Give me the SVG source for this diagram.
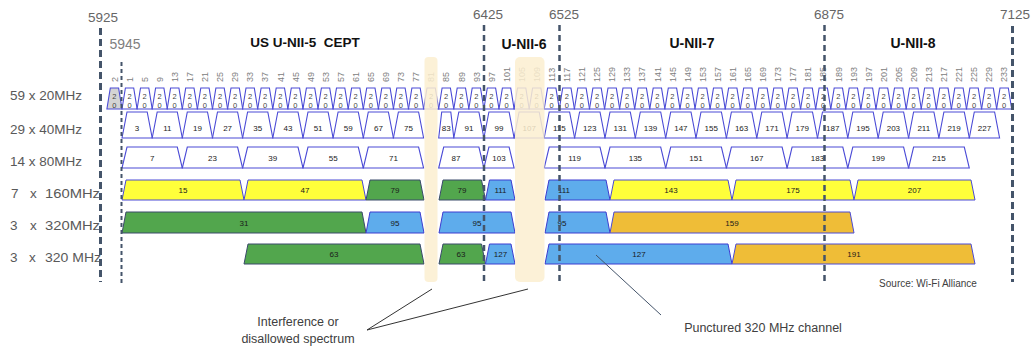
<svg xmlns="http://www.w3.org/2000/svg" width="1032" height="347" viewBox="0 0 1032 347">
<style>
text{font-family:"Liberation Sans",Arial,sans-serif}
.bg{fill:#fff}
.p20{fill:#fff;stroke:#4a4ad6;stroke-width:1.1}
.gry{fill:#d4d4d4}
.t20{font-size:7.5px;fill:#444;text-anchor:middle}
.cl{font-size:9px;fill:#808080}
.pw{fill:#fff;stroke:#4a4ad6;stroke-width:1.1}
.ty{fill:#ffff3a;stroke:#4a4ad6;stroke-width:1}
.tg{fill:#52a64d;stroke:#3b4a6b;stroke-width:1}
.tb{fill:#5eacec;stroke:#3d3dd0;stroke-width:1}
.to{fill:#efbd37;stroke:#4a4ad6;stroke-width:1}
.tn{font-size:8px;fill:#1a1a1a;text-anchor:middle}
.band{fill:#fcefd0;opacity:0.85}
.dl{stroke:#44546a;fill:none}
.freq{font-size:13.5px;fill:#666;text-anchor:middle}
.hdr{font-size:14px;font-weight:bold;fill:#111;text-anchor:middle}
.rl{font-size:13.5px;fill:#595959}
.ann{font-size:12.5px;fill:#404040;text-anchor:middle}
.con{stroke:#333;stroke-width:1;fill:none}
</style>
<rect class="bg" x="0" y="0" width="1032" height="347"/>

<g id="row20">
<g id="c20-2" transform="translate(106.9,0)"><polygon class="p20 gry" points="0,109 3.4,88 11.7,88 15.1,109"/><text class="t20" x="7.5" y="99">2</text><text class="t20" x="7.5" y="108">0</text><text class="cl" transform="translate(10.7,82) rotate(-90)">2</text></g>
<g id="c20-1" transform="translate(122,0)"><polygon class="p20" points="0,109 3.4,88 11.7,88 15.1,109"/><text class="t20" x="7.5" y="99">2</text><text class="t20" x="7.5" y="108">0</text><text class="cl" transform="translate(10.7,82) rotate(-90)">1</text></g>
<g id="c20-5" transform="translate(137.1,0)"><polygon class="p20" points="0,109 3.4,88 11.7,88 15.1,109"/><text class="t20" x="7.5" y="99">2</text><text class="t20" x="7.5" y="108">0</text><text class="cl" transform="translate(10.7,82) rotate(-90)">5</text></g>
<g id="c20-9" transform="translate(152.2,0)"><polygon class="p20" points="0,109 3.4,88 11.7,88 15.1,109"/><text class="t20" x="7.5" y="99">2</text><text class="t20" x="7.5" y="108">0</text><text class="cl" transform="translate(10.7,82) rotate(-90)">9</text></g>
<g id="c20-13" transform="translate(167.2,0)"><polygon class="p20" points="0,109 3.4,88 11.7,88 15.1,109"/><text class="t20" x="7.5" y="99">2</text><text class="t20" x="7.5" y="108">0</text><text class="cl" transform="translate(10.7,82) rotate(-90)">13</text></g>
<g id="c20-17" transform="translate(182.3,0)"><polygon class="p20" points="0,109 3.4,88 11.7,88 15.1,109"/><text class="t20" x="7.5" y="99">2</text><text class="t20" x="7.5" y="108">0</text><text class="cl" transform="translate(10.7,82) rotate(-90)">17</text></g>
<g id="c20-21" transform="translate(197.4,0)"><polygon class="p20" points="0,109 3.4,88 11.7,88 15.1,109"/><text class="t20" x="7.5" y="99">2</text><text class="t20" x="7.5" y="108">0</text><text class="cl" transform="translate(10.7,82) rotate(-90)">21</text></g>
<g id="c20-25" transform="translate(212.5,0)"><polygon class="p20" points="0,109 3.4,88 11.7,88 15.1,109"/><text class="t20" x="7.5" y="99">2</text><text class="t20" x="7.5" y="108">0</text><text class="cl" transform="translate(10.7,82) rotate(-90)">25</text></g>
<g id="c20-29" transform="translate(227.6,0)"><polygon class="p20" points="0,109 3.4,88 11.7,88 15.1,109"/><text class="t20" x="7.5" y="99">2</text><text class="t20" x="7.5" y="108">0</text><text class="cl" transform="translate(10.7,82) rotate(-90)">29</text></g>
<g id="c20-33" transform="translate(242.6,0)"><polygon class="p20" points="0,109 3.4,88 11.7,88 15.1,109"/><text class="t20" x="7.5" y="99">2</text><text class="t20" x="7.5" y="108">0</text><text class="cl" transform="translate(10.7,82) rotate(-90)">33</text></g>
<g id="c20-37" transform="translate(257.7,0)"><polygon class="p20" points="0,109 3.4,88 11.7,88 15.1,109"/><text class="t20" x="7.5" y="99">2</text><text class="t20" x="7.5" y="108">0</text><text class="cl" transform="translate(10.7,82) rotate(-90)">37</text></g>
<g id="c20-41" transform="translate(272.8,0)"><polygon class="p20" points="0,109 3.4,88 11.7,88 15.1,109"/><text class="t20" x="7.5" y="99">2</text><text class="t20" x="7.5" y="108">0</text><text class="cl" transform="translate(10.7,82) rotate(-90)">41</text></g>
<g id="c20-45" transform="translate(287.9,0)"><polygon class="p20" points="0,109 3.4,88 11.7,88 15.1,109"/><text class="t20" x="7.5" y="99">2</text><text class="t20" x="7.5" y="108">0</text><text class="cl" transform="translate(10.7,82) rotate(-90)">45</text></g>
<g id="c20-49" transform="translate(303,0)"><polygon class="p20" points="0,109 3.4,88 11.7,88 15.1,109"/><text class="t20" x="7.5" y="99">2</text><text class="t20" x="7.5" y="108">0</text><text class="cl" transform="translate(10.7,82) rotate(-90)">49</text></g>
<g id="c20-53" transform="translate(318,0)"><polygon class="p20" points="0,109 3.4,88 11.7,88 15.1,109"/><text class="t20" x="7.5" y="99">2</text><text class="t20" x="7.5" y="108">0</text><text class="cl" transform="translate(10.7,82) rotate(-90)">53</text></g>
<g id="c20-57" transform="translate(333.1,0)"><polygon class="p20" points="0,109 3.4,88 11.7,88 15.1,109"/><text class="t20" x="7.5" y="99">2</text><text class="t20" x="7.5" y="108">0</text><text class="cl" transform="translate(10.7,82) rotate(-90)">57</text></g>
<g id="c20-61" transform="translate(348.2,0)"><polygon class="p20" points="0,109 3.4,88 11.7,88 15.1,109"/><text class="t20" x="7.5" y="99">2</text><text class="t20" x="7.5" y="108">0</text><text class="cl" transform="translate(10.7,82) rotate(-90)">61</text></g>
<g id="c20-65" transform="translate(363.3,0)"><polygon class="p20" points="0,109 3.4,88 11.7,88 15.1,109"/><text class="t20" x="7.5" y="99">2</text><text class="t20" x="7.5" y="108">0</text><text class="cl" transform="translate(10.7,82) rotate(-90)">65</text></g>
<g id="c20-69" transform="translate(378.4,0)"><polygon class="p20" points="0,109 3.4,88 11.7,88 15.1,109"/><text class="t20" x="7.5" y="99">2</text><text class="t20" x="7.5" y="108">0</text><text class="cl" transform="translate(10.7,82) rotate(-90)">69</text></g>
<g id="c20-73" transform="translate(393.4,0)"><polygon class="p20" points="0,109 3.4,88 11.7,88 15.1,109"/><text class="t20" x="7.5" y="99">2</text><text class="t20" x="7.5" y="108">0</text><text class="cl" transform="translate(10.7,82) rotate(-90)">73</text></g>
<g id="c20-77" transform="translate(408.5,0)"><polygon class="p20" points="0,109 3.4,88 11.7,88 15.1,109"/><text class="t20" x="7.5" y="99">2</text><text class="t20" x="7.5" y="108">0</text><text class="cl" transform="translate(10.7,82) rotate(-90)">77</text></g>
<g id="c20-81" transform="translate(423.6,0)"><polygon class="p20" points="0,109 3.4,88 11.7,88 15.1,109"/><text class="t20" x="7.5" y="99">2</text><text class="t20" x="7.5" y="108">0</text><text class="cl" transform="translate(10.7,82) rotate(-90)">81</text></g>
<g id="c20-85" transform="translate(438.7,0)"><polygon class="p20" points="0,109 3.4,88 11.7,88 15.1,109"/><text class="t20" x="7.5" y="99">2</text><text class="t20" x="7.5" y="108">0</text><text class="cl" transform="translate(10.7,82) rotate(-90)">85</text></g>
<g id="c20-89" transform="translate(453.8,0)"><polygon class="p20" points="0,109 3.4,88 11.7,88 15.1,109"/><text class="t20" x="7.5" y="99">2</text><text class="t20" x="7.5" y="108">0</text><text class="cl" transform="translate(10.7,82) rotate(-90)">89</text></g>
<g id="c20-93" transform="translate(468.8,0)"><polygon class="p20" points="0,109 3.4,88 11.7,88 15.1,109"/><text class="t20" x="7.5" y="99">2</text><text class="t20" x="7.5" y="108">0</text><text class="cl" transform="translate(10.7,82) rotate(-90)">93</text></g>
<g id="c20-97" transform="translate(483.9,0)"><polygon class="p20" points="0,109 3.4,88 11.7,88 15.1,109"/><text class="t20" x="7.5" y="99">2</text><text class="t20" x="7.5" y="108">0</text><text class="cl" transform="translate(10.7,82) rotate(-90)">97</text></g>
<g id="c20-101" transform="translate(499,0)"><polygon class="p20" points="0,109 3.4,88 11.7,88 15.1,109"/><text class="t20" x="7.5" y="99">2</text><text class="t20" x="7.5" y="108">0</text><text class="cl" transform="translate(10.7,82) rotate(-90)">101</text></g>
<g id="c20-105" transform="translate(514.1,0)"><polygon class="p20" points="0,109 3.4,88 11.7,88 15.1,109"/><text class="t20" x="7.5" y="99">2</text><text class="t20" x="7.5" y="108">0</text><text class="cl" transform="translate(10.7,82) rotate(-90)">105</text></g>
<g id="c20-109" transform="translate(529.2,0)"><polygon class="p20" points="0,109 3.4,88 11.7,88 15.1,109"/><text class="t20" x="7.5" y="99">2</text><text class="t20" x="7.5" y="108">0</text><text class="cl" transform="translate(10.7,82) rotate(-90)">109</text></g>
<g id="c20-113" transform="translate(544.2,0)"><polygon class="p20" points="0,109 3.4,88 11.7,88 15.1,109"/><text class="t20" x="7.5" y="99">2</text><text class="t20" x="7.5" y="108">0</text><text class="cl" transform="translate(10.7,82) rotate(-90)">113</text></g>
<g id="c20-117" transform="translate(559.3,0)"><polygon class="p20" points="0,109 3.4,88 11.7,88 15.1,109"/><text class="t20" x="7.5" y="99">2</text><text class="t20" x="7.5" y="108">0</text><text class="cl" transform="translate(10.7,82) rotate(-90)">117</text></g>
<g id="c20-121" transform="translate(574.4,0)"><polygon class="p20" points="0,109 3.4,88 11.7,88 15.1,109"/><text class="t20" x="7.5" y="99">2</text><text class="t20" x="7.5" y="108">0</text><text class="cl" transform="translate(10.7,82) rotate(-90)">121</text></g>
<g id="c20-125" transform="translate(589.5,0)"><polygon class="p20" points="0,109 3.4,88 11.7,88 15.1,109"/><text class="t20" x="7.5" y="99">2</text><text class="t20" x="7.5" y="108">0</text><text class="cl" transform="translate(10.7,82) rotate(-90)">125</text></g>
<g id="c20-129" transform="translate(604.6,0)"><polygon class="p20" points="0,109 3.4,88 11.7,88 15.1,109"/><text class="t20" x="7.5" y="99">2</text><text class="t20" x="7.5" y="108">0</text><text class="cl" transform="translate(10.7,82) rotate(-90)">129</text></g>
<g id="c20-133" transform="translate(619.6,0)"><polygon class="p20" points="0,109 3.4,88 11.7,88 15.1,109"/><text class="t20" x="7.5" y="99">2</text><text class="t20" x="7.5" y="108">0</text><text class="cl" transform="translate(10.7,82) rotate(-90)">133</text></g>
<g id="c20-137" transform="translate(634.7,0)"><polygon class="p20" points="0,109 3.4,88 11.7,88 15.1,109"/><text class="t20" x="7.5" y="99">2</text><text class="t20" x="7.5" y="108">0</text><text class="cl" transform="translate(10.7,82) rotate(-90)">137</text></g>
<g id="c20-141" transform="translate(649.8,0)"><polygon class="p20" points="0,109 3.4,88 11.7,88 15.1,109"/><text class="t20" x="7.5" y="99">2</text><text class="t20" x="7.5" y="108">0</text><text class="cl" transform="translate(10.7,82) rotate(-90)">141</text></g>
<g id="c20-145" transform="translate(664.9,0)"><polygon class="p20" points="0,109 3.4,88 11.7,88 15.1,109"/><text class="t20" x="7.5" y="99">2</text><text class="t20" x="7.5" y="108">0</text><text class="cl" transform="translate(10.7,82) rotate(-90)">145</text></g>
<g id="c20-149" transform="translate(680,0)"><polygon class="p20" points="0,109 3.4,88 11.7,88 15.1,109"/><text class="t20" x="7.5" y="99">2</text><text class="t20" x="7.5" y="108">0</text><text class="cl" transform="translate(10.7,82) rotate(-90)">149</text></g>
<g id="c20-153" transform="translate(695,0)"><polygon class="p20" points="0,109 3.4,88 11.7,88 15.1,109"/><text class="t20" x="7.5" y="99">2</text><text class="t20" x="7.5" y="108">0</text><text class="cl" transform="translate(10.7,82) rotate(-90)">153</text></g>
<g id="c20-157" transform="translate(710.1,0)"><polygon class="p20" points="0,109 3.4,88 11.7,88 15.1,109"/><text class="t20" x="7.5" y="99">2</text><text class="t20" x="7.5" y="108">0</text><text class="cl" transform="translate(10.7,82) rotate(-90)">157</text></g>
<g id="c20-161" transform="translate(725.2,0)"><polygon class="p20" points="0,109 3.4,88 11.7,88 15.1,109"/><text class="t20" x="7.5" y="99">2</text><text class="t20" x="7.5" y="108">0</text><text class="cl" transform="translate(10.7,82) rotate(-90)">161</text></g>
<g id="c20-165" transform="translate(740.3,0)"><polygon class="p20" points="0,109 3.4,88 11.7,88 15.1,109"/><text class="t20" x="7.5" y="99">2</text><text class="t20" x="7.5" y="108">0</text><text class="cl" transform="translate(10.7,82) rotate(-90)">165</text></g>
<g id="c20-169" transform="translate(755.4,0)"><polygon class="p20" points="0,109 3.4,88 11.7,88 15.1,109"/><text class="t20" x="7.5" y="99">2</text><text class="t20" x="7.5" y="108">0</text><text class="cl" transform="translate(10.7,82) rotate(-90)">169</text></g>
<g id="c20-173" transform="translate(770.4,0)"><polygon class="p20" points="0,109 3.4,88 11.7,88 15.1,109"/><text class="t20" x="7.5" y="99">2</text><text class="t20" x="7.5" y="108">0</text><text class="cl" transform="translate(10.7,82) rotate(-90)">173</text></g>
<g id="c20-177" transform="translate(785.5,0)"><polygon class="p20" points="0,109 3.4,88 11.7,88 15.1,109"/><text class="t20" x="7.5" y="99">2</text><text class="t20" x="7.5" y="108">0</text><text class="cl" transform="translate(10.7,82) rotate(-90)">177</text></g>
<g id="c20-181" transform="translate(800.6,0)"><polygon class="p20" points="0,109 3.4,88 11.7,88 15.1,109"/><text class="t20" x="7.5" y="99">2</text><text class="t20" x="7.5" y="108">0</text><text class="cl" transform="translate(10.7,82) rotate(-90)">181</text></g>
<g id="c20-185" transform="translate(815.7,0)"><polygon class="p20" points="0,109 3.4,88 11.7,88 15.1,109"/><text class="t20" x="7.5" y="99">2</text><text class="t20" x="7.5" y="108">0</text><text class="cl" transform="translate(10.7,82) rotate(-90)">185</text></g>
<g id="c20-189" transform="translate(830.8,0)"><polygon class="p20" points="0,109 3.4,88 11.7,88 15.1,109"/><text class="t20" x="7.5" y="99">2</text><text class="t20" x="7.5" y="108">0</text><text class="cl" transform="translate(10.7,82) rotate(-90)">189</text></g>
<g id="c20-193" transform="translate(845.8,0)"><polygon class="p20" points="0,109 3.4,88 11.7,88 15.1,109"/><text class="t20" x="7.5" y="99">2</text><text class="t20" x="7.5" y="108">0</text><text class="cl" transform="translate(10.7,82) rotate(-90)">193</text></g>
<g id="c20-197" transform="translate(860.9,0)"><polygon class="p20" points="0,109 3.4,88 11.7,88 15.1,109"/><text class="t20" x="7.5" y="99">2</text><text class="t20" x="7.5" y="108">0</text><text class="cl" transform="translate(10.7,82) rotate(-90)">197</text></g>
<g id="c20-201" transform="translate(876,0)"><polygon class="p20" points="0,109 3.4,88 11.7,88 15.1,109"/><text class="t20" x="7.5" y="99">2</text><text class="t20" x="7.5" y="108">0</text><text class="cl" transform="translate(10.7,82) rotate(-90)">201</text></g>
<g id="c20-205" transform="translate(891.1,0)"><polygon class="p20" points="0,109 3.4,88 11.7,88 15.1,109"/><text class="t20" x="7.5" y="99">2</text><text class="t20" x="7.5" y="108">0</text><text class="cl" transform="translate(10.7,82) rotate(-90)">205</text></g>
<g id="c20-209" transform="translate(906.2,0)"><polygon class="p20" points="0,109 3.4,88 11.7,88 15.1,109"/><text class="t20" x="7.5" y="99">2</text><text class="t20" x="7.5" y="108">0</text><text class="cl" transform="translate(10.7,82) rotate(-90)">209</text></g>
<g id="c20-213" transform="translate(921.2,0)"><polygon class="p20" points="0,109 3.4,88 11.7,88 15.1,109"/><text class="t20" x="7.5" y="99">2</text><text class="t20" x="7.5" y="108">0</text><text class="cl" transform="translate(10.7,82) rotate(-90)">213</text></g>
<g id="c20-217" transform="translate(936.3,0)"><polygon class="p20" points="0,109 3.4,88 11.7,88 15.1,109"/><text class="t20" x="7.5" y="99">2</text><text class="t20" x="7.5" y="108">0</text><text class="cl" transform="translate(10.7,82) rotate(-90)">217</text></g>
<g id="c20-221" transform="translate(951.4,0)"><polygon class="p20" points="0,109 3.4,88 11.7,88 15.1,109"/><text class="t20" x="7.5" y="99">2</text><text class="t20" x="7.5" y="108">0</text><text class="cl" transform="translate(10.7,82) rotate(-90)">221</text></g>
<g id="c20-225" transform="translate(966.5,0)"><polygon class="p20" points="0,109 3.4,88 11.7,88 15.1,109"/><text class="t20" x="7.5" y="99">2</text><text class="t20" x="7.5" y="108">0</text><text class="cl" transform="translate(10.7,82) rotate(-90)">225</text></g>
<g id="c20-229" transform="translate(981.6,0)"><polygon class="p20" points="0,109 3.4,88 11.7,88 15.1,109"/><text class="t20" x="7.5" y="99">2</text><text class="t20" x="7.5" y="108">0</text><text class="cl" transform="translate(10.7,82) rotate(-90)">229</text></g>
<g id="c20-233" transform="translate(996.6,0)"><polygon class="p20" points="0,109 3.4,88 11.7,88 15.1,109"/><text class="t20" x="7.5" y="99">2</text><text class="t20" x="7.5" y="108">0</text><text class="cl" transform="translate(10.7,82) rotate(-90)">233</text></g>
</g>

<g id="row40">
<g id="c40-3"><polygon class="pw" points="122,138 127,112 147.2,112 152.2,138"/><text class="tn" x="137.1" y="130.5">3</text></g>
<g id="c40-11"><polygon class="pw" points="152.2,138 157.2,112 177.3,112 182.3,138"/><text class="tn" x="167.3" y="130.5">11</text></g>
<g id="c40-19"><polygon class="pw" points="182.3,138 187.3,112 207.5,112 212.5,138"/><text class="tn" x="197.4" y="130.5">19</text></g>
<g id="c40-27"><polygon class="pw" points="212.5,138 217.5,112 237.6,112 242.6,138"/><text class="tn" x="227.6" y="130.5">27</text></g>
<g id="c40-35"><polygon class="pw" points="242.6,138 247.6,112 267.8,112 272.8,138"/><text class="tn" x="257.7" y="130.5">35</text></g>
<g id="c40-43"><polygon class="pw" points="272.8,138 277.8,112 298,112 303,138"/><text class="tn" x="287.9" y="130.5">43</text></g>
<g id="c40-51"><polygon class="pw" points="303,138 308,112 328.1,112 333.1,138"/><text class="tn" x="318.1" y="130.5">51</text></g>
<g id="c40-59"><polygon class="pw" points="333.1,138 338.1,112 358.3,112 363.3,138"/><text class="tn" x="348.2" y="130.5">59</text></g>
<g id="c40-67"><polygon class="pw" points="363.3,138 368.3,112 388.4,112 393.4,138"/><text class="tn" x="378.4" y="130.5">67</text></g>
<g id="c40-75"><polygon class="pw" points="393.4,138 398.4,112 418.6,112 423.6,138"/><text class="tn" x="408.5" y="130.5">75</text></g>
<g id="c40-83"><polygon class="pw" points="438.7,138 441.7,112 450.8,112 453.8,138"/><text class="tn" x="446.3" y="130.5">83</text></g>
<g id="c40-91"><polygon class="pw" points="453.8,138 458.8,112 478.9,112 483.9,138"/><text class="tn" x="468.9" y="130.5">91</text></g>
<g id="c40-99"><polygon class="pw" points="483.9,138 488.9,112 509.1,112 514.1,138"/><text class="tn" x="499" y="130.5">99</text></g>
<g id="c40-107"><polygon class="pw" points="514.1,138 519.1,112 539.2,112 544.2,138"/><text class="tn" x="529.2" y="130.5">107</text></g>
<g id="c40-115"><polygon class="pw" points="544.2,138 549.2,112 569.6,112 574.6,138"/><text class="tn" x="559.4" y="130.5">115</text></g>
<g id="c40-123"><polygon class="pw" points="574.6,138 579.6,112 600,112 605,138"/><text class="tn" x="589.8" y="130.5">123</text></g>
<g id="c40-131"><polygon class="pw" points="605,138 610,112 630.3,112 635.3,138"/><text class="tn" x="620.2" y="130.5">131</text></g>
<g id="c40-139"><polygon class="pw" points="635.3,138 640.3,112 660.7,112 665.7,138"/><text class="tn" x="650.5" y="130.5">139</text></g>
<g id="c40-147"><polygon class="pw" points="665.7,138 670.7,112 691,112 696,138"/><text class="tn" x="680.9" y="130.5">147</text></g>
<g id="c40-155"><polygon class="pw" points="696,138 701,112 721.4,112 726.4,138"/><text class="tn" x="711.2" y="130.5">155</text></g>
<g id="c40-163"><polygon class="pw" points="726.4,138 731.4,112 751.8,112 756.8,138"/><text class="tn" x="741.6" y="130.5">163</text></g>
<g id="c40-171"><polygon class="pw" points="756.8,138 761.8,112 782.1,112 787.1,138"/><text class="tn" x="772" y="130.5">171</text></g>
<g id="c40-179"><polygon class="pw" points="787.1,138 792.1,112 812.5,112 817.5,138"/><text class="tn" x="802.3" y="130.5">179</text></g>
<g id="c40-187"><polygon class="pw" points="817.5,138 822.5,112 842.8,112 847.8,138"/><text class="tn" x="832.7" y="130.5">187</text></g>
<g id="c40-195"><polygon class="pw" points="847.8,138 852.8,112 873.2,112 878.2,138"/><text class="tn" x="863" y="130.5">195</text></g>
<g id="c40-203"><polygon class="pw" points="878.2,138 883.2,112 903.6,112 908.6,138"/><text class="tn" x="893.4" y="130.5">203</text></g>
<g id="c40-211"><polygon class="pw" points="908.6,138 913.6,112 933.9,112 938.9,138"/><text class="tn" x="923.8" y="130.5">211</text></g>
<g id="c40-219"><polygon class="pw" points="938.9,138 943.9,112 964.3,112 969.3,138"/><text class="tn" x="954.1" y="130.5">219</text></g>
<g id="c40-227"><polygon class="pw" points="969.3,138 974.3,112 994.6,112 999.6,138"/><text class="tn" x="984.5" y="130.5">227</text></g>
</g>

<g id="row80">
<g id="c80-7"><polygon class="pw" points="122,168 127,147 177.3,147 182.3,168"/><text class="tn" x="152.2" y="160.5">7</text></g>
<g id="c80-23"><polygon class="pw" points="182.3,168 187.3,147 237.6,147 242.6,168"/><text class="tn" x="212.5" y="160.5">23</text></g>
<g id="c80-39"><polygon class="pw" points="242.6,168 247.6,147 298,147 303,168"/><text class="tn" x="272.8" y="160.5">39</text></g>
<g id="c80-55"><polygon class="pw" points="303,168 308,147 358.3,147 363.3,168"/><text class="tn" x="333.2" y="160.5">55</text></g>
<g id="c80-71"><polygon class="pw" points="363.3,168 368.3,147 418.6,147 423.6,168"/><text class="tn" x="393.5" y="160.5">71</text></g>
<g id="c80-87"><polygon class="pw" points="438.7,168 443.7,147 478.9,147 483.9,168"/><text class="tn" x="456" y="160.5">87</text></g>
<g id="c80-103"><polygon class="pw" points="483.9,168 488.9,147 509.1,147 514.1,168"/><text class="tn" x="499" y="160.5">103</text></g>
<g id="c80-119"><polygon class="pw" points="544.2,168 549.2,147 600,147 605,168"/><text class="tn" x="574.6" y="160.5">119</text></g>
<g id="c80-135"><polygon class="pw" points="605,168 610,147 660.7,147 665.7,168"/><text class="tn" x="635.4" y="160.5">135</text></g>
<g id="c80-151"><polygon class="pw" points="665.7,168 670.7,147 721.4,147 726.4,168"/><text class="tn" x="696" y="160.5">151</text></g>
<g id="c80-167"><polygon class="pw" points="726.4,168 731.4,147 782.1,147 787.1,168"/><text class="tn" x="756.8" y="160.5">167</text></g>
<g id="c80-183"><polygon class="pw" points="787.1,168 792.1,147 842.8,147 847.8,168"/><text class="tn" x="817.5" y="160.5">183</text></g>
<g id="c80-199"><polygon class="pw" points="847.8,168 852.8,147 903.6,147 908.6,168"/><text class="tn" x="878.2" y="160.5">199</text></g>
<g id="c80-215"><polygon class="pw" points="908.6,168 913.6,147 964.3,147 969.3,168"/><text class="tn" x="939" y="160.5">215</text></g>
</g>

<g id="row160">
<g id="c160-15"><polygon class="ty" points="122,200 126,180 240,180 244,200"/><text class="tn" x="183" y="193">15</text></g>
<g id="c160-47"><polygon class="ty" points="244,200 248,180 362,180 366,200"/><text class="tn" x="305" y="193">47</text></g>
<g id="c160-79a"><polygon class="tg" points="366,200 370,180 420,180 424,200"/><text class="tn" x="395" y="193">79</text></g>
<g id="c160-79b"><polygon class="tg" points="439,200 443,180 481.5,180 485.5,200"/><text class="tn" x="462" y="193">79</text></g>
<g id="c160-111a"><polygon class="tb" points="485.5,200 489.5,180 511,180 515,200"/><text class="tn" x="500.5" y="193">111</text></g>
<g id="c160-111b"><polygon class="tb" points="545,200 549,180 606,180 610,200"/><text class="tn" x="564" y="193">111</text></g>
<g id="c160-143"><polygon class="ty" points="610,200 614,180 728,180 732,200"/><text class="tn" x="671" y="193">143</text></g>
<g id="c160-175"><polygon class="ty" points="732,200 736,180 850,180 854,200"/><text class="tn" x="793" y="193">175</text></g>
<g id="c160-207"><polygon class="ty" points="854,200 858,180 971,180 975,200"/><text class="tn" x="914.5" y="193">207</text></g>
</g>

<g id="row320a">
<g id="c320-31"><polygon class="tg" points="122,233 126,212 362,212 366,233"/><text class="tn" x="244" y="225.5">31</text></g>
<g id="c320-95a"><polygon class="tb" points="366,233 370,212 420,212 424,233"/><text class="tn" x="395" y="225.5">95</text></g>
<g id="c320-95b"><polygon class="tb" points="439,233 443,212 511,212 515,233"/><text class="tn" x="477" y="225.5">95</text></g>
<g id="c320-95c"><polygon class="tb" points="545,233 549,212 606,212 610,233"/><text class="tn" x="562" y="225.5">95</text></g>
<g id="c320-159"><polygon class="to" points="610,233 614,212 850,212 854,233"/><text class="tn" x="732" y="225.5">159</text></g>
</g>

<g id="row320b">
<g id="c320-63a"><polygon class="tg" points="244,264 248,244 420,244 424,264"/><text class="tn" x="334" y="257">63</text></g>
<g id="c320-63b"><polygon class="tg" points="439,264 443,244 481.5,244 485.5,264"/><text class="tn" x="461" y="257">63</text></g>
<g id="c320-127a"><polygon class="tb" points="485.5,264 489.5,244 511,244 515,264"/><text class="tn" x="500.5" y="257">127</text></g>
<g id="c320-127b"><polygon class="tb" points="545,264 549,244 728,244 732,264"/><text class="tn" x="639" y="257">127</text></g>
<g id="c320-191"><polygon class="to" points="732,264 736,244 971,244 975,264"/><text class="tn" x="854" y="257">191</text></g>
</g>

<g id="bands">
<rect class="band" x="424.5" y="57" width="13" height="225" rx="4"/>
<rect class="band" x="515" y="57" width="29.5" height="225" rx="5"/>
</g>

<g id="boundaries">
<line class="dl" x1="100.5" y1="28" x2="100.5" y2="282" stroke-width="3" stroke-dasharray="7 4"/>
<line class="dl" x1="121.5" y1="62" x2="121.5" y2="283" stroke-width="2" stroke-dasharray="4 3"/>
<line class="dl" x1="484" y1="25" x2="484" y2="282" stroke-width="2.5" stroke-dasharray="6 4"/>
<line class="dl" x1="559.5" y1="25" x2="559.5" y2="282" stroke-width="2.5" stroke-dasharray="6 4"/>
<line class="dl" x1="824.5" y1="25" x2="824.5" y2="282" stroke-width="2.5" stroke-dasharray="6 4"/>
<line class="dl" x1="1012.5" y1="26" x2="1012.5" y2="282" stroke-width="3" stroke-dasharray="7 4"/>
</g>

<g id="freq-labels">
<text class="freq" x="103" y="22">5925</text>
<text class="freq" x="125" y="49" style="fill:#808080;font-size:14px">5945</text>
<text class="freq" x="488" y="19">6425</text>
<text class="freq" x="564" y="19">6525</text>
<text class="freq" x="829" y="19">6875</text>
<text class="freq" x="1015" y="19">7125</text>
</g>

<g id="band-headers">
<text class="hdr" x="305" y="47" style="font-size:13.5px" xml:space="preserve">US U-NII-5  CEPT</text>
<text class="hdr" x="524" y="49">U-NII-6</text>
<text class="hdr" x="692" y="48">U-NII-7</text>
<text class="hdr" x="913" y="48">U-NII-8</text>
</g>

<g id="row-labels">
<text class="rl" x="10" y="100">59 x 20MHz</text>
<text class="rl" x="10" y="133.5">29 x 40MHz</text>
<text class="rl" x="10" y="165.5">14 x 80MHz</text>
<text class="rl" x="11" y="197.5">7</text><text class="rl" x="30" y="197.5">x</text><text class="rl" x="45" y="197.5" textLength="55" lengthAdjust="spacingAndGlyphs">160MHz</text>
<text class="rl" x="10" y="229.5">3</text><text class="rl" x="30" y="229.5">x</text><text class="rl" x="45" y="229.5" textLength="55" lengthAdjust="spacingAndGlyphs">320MHz</text>
<text class="rl" x="10" y="261.5">3</text><text class="rl" x="29" y="261.5">x</text><text class="rl" x="45" y="261.5" textLength="56" lengthAdjust="spacingAndGlyphs">320 MHz</text>
</g>

<g id="connectors">
<line class="con" x1="367" y1="330" x2="432" y2="289"/>
<line class="con" x1="367" y1="330" x2="528" y2="289"/>
<line class="con" x1="596" y1="255" x2="661" y2="315" style="stroke:#44546a"/>
</g>

<g id="annotations">
<text class="ann" x="298" y="326">Interference or</text>
<text class="ann" x="298" y="343">disallowed spectrum</text>
<text class="ann" x="763" y="332">Punctured 320 MHz channel</text>
<text x="928" y="287" style="font-size:10px;fill:#404040;text-anchor:middle">Source: Wi-Fi Alliance</text>
</g>
</svg>
